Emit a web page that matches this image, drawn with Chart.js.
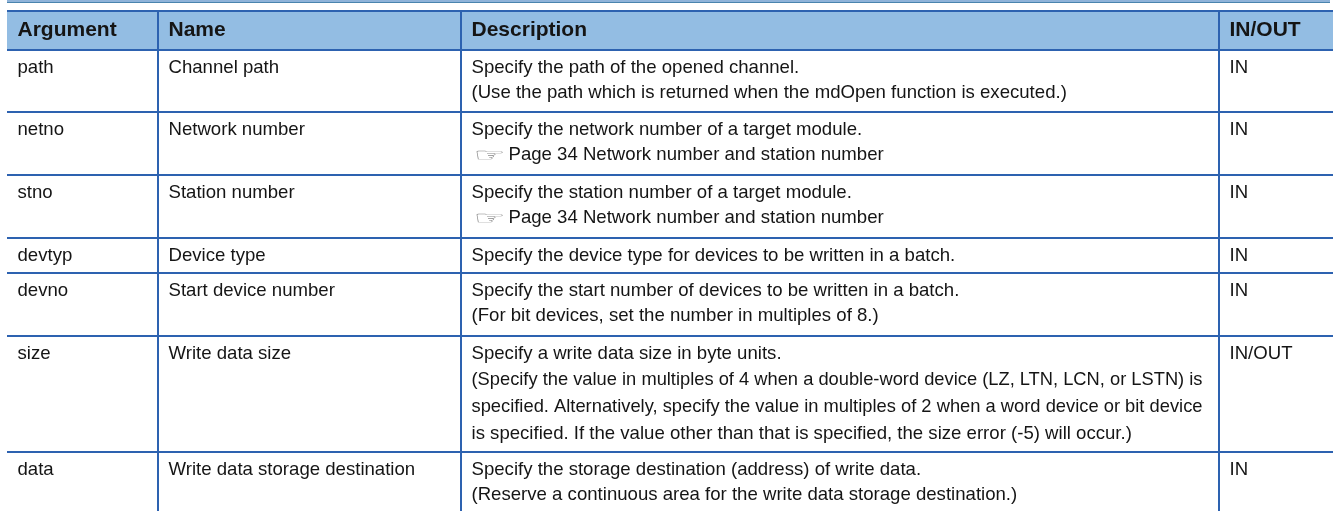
<!DOCTYPE html>
<html>
<head>
<meta charset="utf-8">
<title>Arguments</title>
<script src="https://cdn.jsdelivr.net/npm/chart.js@4"></script>
<style>
  html, body { margin: 0; padding: 0; background: #fff; overflow: hidden; }
  #wrap { position: relative; width: 1334px; height: 511px; }
  #band { position: absolute; left: 7px; top: 0; width: 1323px; height: 3px;
          background: linear-gradient(#8fb3d9 0, #8fb3d9 2px, #4a84ae 2px); }
  canvas { display: block; }
</style>
</head>
<body>
<div id="wrap">
  <div id="band"></div>
  <canvas id="tabla" width="1334" height="511"></canvas>
</div>
<script>
const headers = ['Argument', 'Name', 'Description', 'IN/OUT'];
const argumentos = ['path', 'netno', 'stno', 'devtyp', 'devno', 'size', 'data'];
const nombres = ['Channel path', 'Network number', 'Station number', 'Device type',
  'Start device number', 'Write data size', 'Write data storage destination'];
const descripciones = [
  ['Specify the path of the opened channel.', '(Use the path which is returned when the mdOpen function is executed.)'],
  ['Specify the network number of a target module.', '☞Page 34 Network number and station number'],
  ['Specify the station number of a target module.', '☞Page 34 Network number and station number'],
  ['Specify the device type for devices to be written in a batch.'],
  ['Specify the start number of devices to be written in a batch.', '(For bit devices, set the number in multiples of 8.)'],
  ['Specify a write data size in byte units.',
    '(Specify the value in multiples of 4 when a double-word device (LZ, LTN, LCN, or LSTN) is',
    'specified. Alternatively, specify the value in multiples of 2 when a word device or bit device',
    'is specified. If the value other than that is specified, the size error (-5) will occur.)'],
  ['Specify the storage destination (address) of write data.', '(Reserve a continuous area for the write data storage destination.)']
];
const sentidos = ['IN', 'IN', 'IN', 'IN', 'IN', 'IN/OUT', 'IN'];

// bordes de la tabla, en las unidades de los ejes
const columnEdges = [7, 158, 461, 1219];
const rowEdges = [11, 50, 112, 175, 238, 273, 336, 452];

const azul = '#2d62b0';
const fuente = '"Liberation Sans", Arial, sans-serif';
const anchoDescripcion = 731; // las lineas largas van ajustadas a este ancho

const textoTabla = {
  id: 'textoTabla',
  afterDatasetsDraw(chart) {
    const { ctx, scales: { x, y } } = chart;
    const colX = i => x.getPixelForValue(columnEdges[i]) + 10.5;
    ctx.save();
    ctx.textBaseline = 'alphabetic';
    ctx.fillStyle = '#151515';

    ctx.font = 'bold 21px ' + fuente;
    headers.forEach((h, i) => ctx.fillText(h, colX(i), y.getPixelForValue(36)));

    ctx.font = '18.6px ' + fuente;
    argumentos.forEach((a, r) => {
      const base = y.getPixelForValue(rowEdges[r + 1]) + 22.5;
      ctx.fillText(a, colX(0), base);
      ctx.fillText(nombres[r], colX(1), base);
      ctx.fillText(sentidos[r], colX(3), base);
      const paso = descripciones[r].length > 2 ? 26.7 : 25.8;
      descripciones[r].forEach((linea, l) => {
        const yy = base + l * paso;
        if (linea.startsWith('☞')) {
          // la manita va estirada a lo ancho, como en el original
          ctx.save();
          ctx.fillStyle = '#8a8a8a';
          ctx.font = '18px "DejaVu Sans"';
          ctx.translate(colX(2) + 2, yy + 1);
          ctx.scale(2, 1);
          ctx.fillText('☞', 0, 0);
          ctx.restore();
          ctx.fillText(linea.slice(1), colX(2) + 37, yy);
        } else {
          ctx.fillText(linea, colX(2), yy, anchoDescripcion);
        }
      });
    });
    ctx.restore();
  }
};

new Chart(document.getElementById('tabla'), {
  type: 'scatter',
  data: {
    datasets: [{
      // banda de encabezado
      type: 'line',
      data: [{ x: 7, y: rowEdges[1] }, { x: 1333, y: rowEdges[1] }],
      borderWidth: 0,
      pointRadius: 0,
      backgroundColor: '#93bde3',
      fill: 'end'
    }]
  },
  options: {
    responsive: false,
    animation: false,
    layout: { padding: { left: 7, right: 1, top: 10, bottom: 0 } },
    plugins: { legend: { display: false }, tooltip: { enabled: false } },
    scales: {
      x: {
        type: 'linear', min: 7, max: 1333, bounds: 'data',
        border: { display: false },
        grid: { color: azul, lineWidth: 2, drawTicks: false, z: 1 },
        ticks: { display: false, autoSkip: false },
        afterBuildTicks: axis => { axis.ticks = columnEdges.slice(1).map(value => ({ value })); }
      },
      y: {
        type: 'linear', min: 10, max: 511, reverse: true, bounds: 'data',
        border: { display: false },
        grid: { color: azul, lineWidth: 2, drawTicks: false, z: 1 },
        ticks: { display: false, autoSkip: false },
        afterBuildTicks: axis => { axis.ticks = rowEdges.map(value => ({ value })); }
      }
    }
  },
  plugins: [textoTabla]
});
</script>
</body>
</html>
